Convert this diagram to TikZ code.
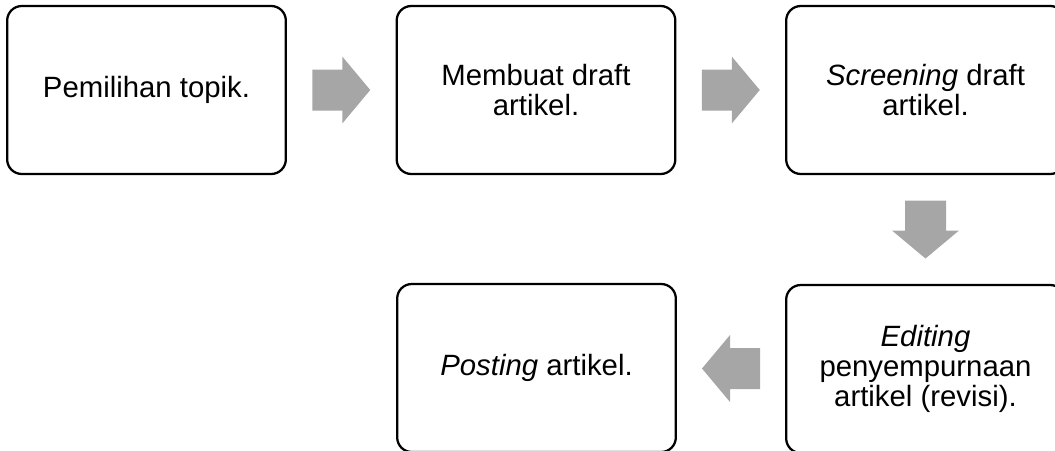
\documentclass[tikz,border=0pt]{standalone}
\usepackage{fontspec}
\setmainfont{Liberation Sans}
\usepackage{tikz}
\usetikzlibrary{positioning, calc}
\definecolor{abuabu}{RGB}{166, 166, 166}

\tikzset{
  kotak/.style={draw, line width=1.7pt, rounded corners=11pt, align=center,
    minimum width=209pt, minimum height=126pt, inner sep=0pt,
    font=\fontsize{22}{22.5}\selectfont},
  panah/.style={fill=abuabu}
}
% panah blok: dari, ke, sudut
\newcommand{\panahblok}[3]{%
  \fill[panah, shift={($(#1)!0.5!(#2)$)}, rotate=#3]
    (-29,-20.5) -- (1,-20.5) -- (1,-33.5) -- (29,0) -- (1,33.5) -- (1,20.5) -- (-29,20.5) -- cycle;}

\begin{document}
\begin{tikzpicture}[x=0.75pt, y=-0.75pt]
    \useasboundingbox (0,0) rectangle (1055,450);
    \clip (0,0) rectangle (1055,450);
    % baris atas
    \node[kotak] (pilih) at (146.5,90) {Pemilihan topik.};
    \node[kotak] (draf) at (536,90) {Membuat draft\\artikel.};
    \node[kotak] (saring) at (925.5,90) {\textit{Screening} draft\\artikel.};
    % baris bawah
    \node[kotak] (sunting) at (925.5,369) {\textit{Editing}\\penyempurnaan\\artikel (revisi).};
    \node[kotak] (unggah) at (536.5,368) {\textit{Posting} artikel.};
    % panah
    \panahblok{pilih.east}{draf.west}{0}
    \panahblok{draf.east}{saring.west}{0}
    \panahblok{saring.south}{sunting.north}{-90}
    \panahblok{sunting.west}{unggah.east}{180}
\end{tikzpicture}
\end{document}
